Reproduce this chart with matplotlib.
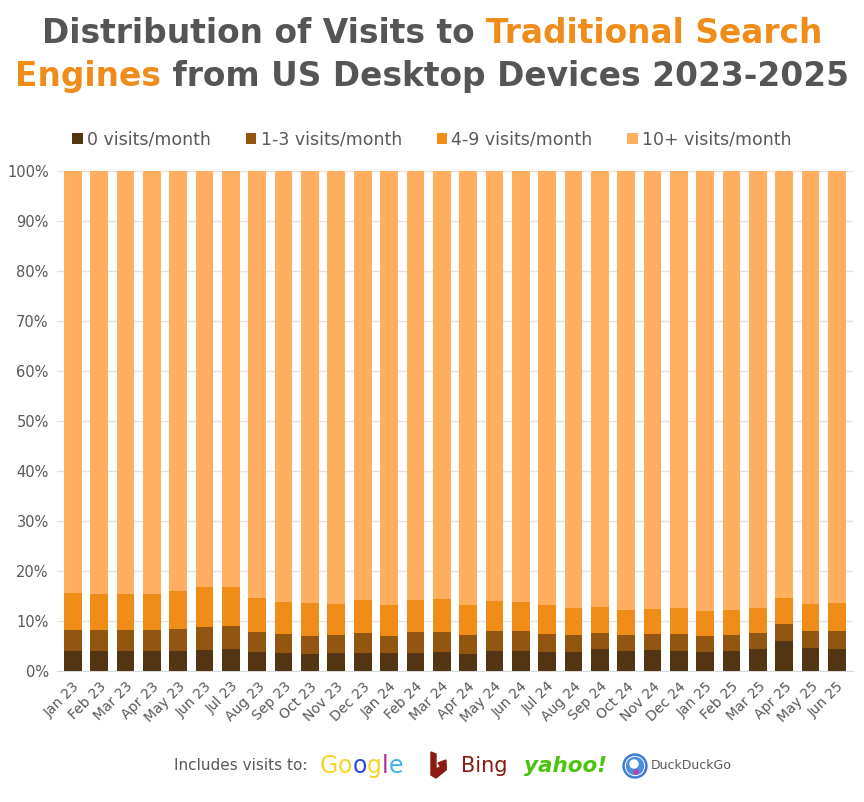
import numpy as np
import matplotlib
matplotlib.use("Agg")
import matplotlib.pyplot as plt
from matplotlib.patches import Circle, Polygon

# data (cumulative tops, %)
months = ["Jan 23", "Feb 23", "Mar 23", "Apr 23", "May 23", "Jun 23", "Jul 23", "Aug 23",
          "Sep 23", "Oct 23", "Nov 23", "Dec 23", "Jan 24", "Feb 24", "Mar 24", "Apr 24",
          "May 24", "Jun 24", "Jul 24", "Aug 24", "Sep 24", "Oct 24", "Nov 24", "Dec 24",
          "Jan 25", "Feb 25", "Mar 25", "Apr 25", "May 25", "Jun 25"]
top_0 = [4.1, 4.1, 4.1, 4.1, 4.1, 4.3, 4.5, 3.9, 3.7, 3.5, 3.6, 3.7, 3.6, 3.7, 3.9,
         3.5, 4.0, 4.1, 3.8, 3.8, 4.4, 4.1, 4.3, 4.0, 3.9, 4.1, 4.4, 6.1, 4.6, 4.5]
top_1_3 = [8.3, 8.2, 8.3, 8.3, 8.4, 8.9, 9.1, 7.9, 7.4, 7.1, 7.3, 7.6, 7.1, 7.8, 7.9,
           7.3, 8.0, 8.1, 7.5, 7.2, 7.7, 7.3, 7.5, 7.4, 7.0, 7.2, 7.6, 9.4, 8.1, 8.1]
top_4_9 = [15.7, 15.5, 15.4, 15.4, 16.1, 16.8, 16.9, 14.7, 13.8, 13.7, 13.5, 14.3, 13.3,
           14.3, 14.4, 13.3, 14.0, 13.8, 13.2, 12.7, 12.8, 12.3, 12.5, 12.6, 12.0, 12.2,
           12.7, 14.6, 13.4, 13.7]

labels = ["0 visits/month", "1-3 visits/month", "4-9 visits/month", "10+ visits/month"]
colors = ["#533513", "#935610", "#F08C18", "#FFAF5F"]

b0 = np.array(top_0)
b1 = np.array(top_1_3) - b0
b2 = np.array(top_4_9) - np.array(top_1_3)
b3 = 100 - np.array(top_4_9)

plt.rcParams["font.family"] = "DejaVu Sans"
fig = plt.figure(figsize=(8.64, 8.02), dpi=100)
ax = fig.add_axes([0.066, 0.1633, 0.921, 0.6235])

x = np.arange(len(months))
bottom = np.zeros(len(months))
for vals, lab, col in zip([b0, b1, b2, b3], labels, colors):
    ax.bar(x, vals, bottom=bottom, width=0.67, color=col, label=lab, zorder=3)
    bottom += vals

ax.set_ylim(0, 100)
ax.set_xlim(-0.6, len(months) - 0.4)
ax.set_yticks(range(0, 101, 10))
ax.set_yticklabels([f"{v}%" for v in range(0, 101, 10)], color="#595959", fontsize=10.5)
ax.set_xticks(x)
ax.set_xticklabels(months, rotation=45, ha="right", rotation_mode="anchor",
                   color="#595959", fontsize=10)
ax.tick_params(length=0, pad=6)
ax.yaxis.grid(True, color="#E3E3E3", linewidth=1, zorder=0)
for s in ["top", "right", "left"]:
    ax.spines[s].set_visible(False)
ax.spines["bottom"].set_color("#D9D9D9")

leg = fig.legend(loc="center", bbox_to_anchor=(0.5, 0.826), ncol=4, frameon=False,
                 fontsize=12.5, handlelength=0.6, handleheight=0.6, handletextpad=0.25,
                 columnspacing=2.0, labelcolor="#595959")

# title in two colours
grey = "#555555"
orange = "#F08C1A"
title_lines = [
    [("Distribution of Visits to ", grey), ("Traditional Search", orange)],
    [("Engines", orange), (" from US Desktop Devices 2023-2025", grey)],
]
title_y = [0.958, 0.905]

fig.canvas.draw()
renderer = fig.canvas.get_renderer()


def put_line(parts, y, size, weight="bold", family="DejaVu Sans"):
    texts = []
    for s, c in parts:
        t = fig.text(0, y, s, color=c, fontsize=size, fontweight=weight,
                     family=family, va="center", ha="left")
        texts.append(t)
    widths = [t.get_window_extent(renderer).width / fig.bbox.width for t in texts]
    x0 = 0.5 - sum(widths) / 2
    for t, w in zip(texts, widths):
        t.set_x(x0)
        x0 += w


for parts, y in zip(title_lines, title_y):
    put_line(parts, y, 23.7)

# "includes visits to" row with text versions of the logos
fy = 0.045
fig.text(0.201, fy, "Includes visits to:", color="#595959", fontsize=11, va="center")

google = [("G", "#F6D32B"), ("o", "#F6D32B"), ("o", "#2B49E0"), ("g", "#F6D32B"),
          ("l", "#B02C9A"), ("e", "#3DB3E8")]
gx = 0.370
for ch, c in google:
    t = fig.text(gx, fy, ch, color=c, fontsize=17, va="center", ha="left")
    gx += t.get_window_extent(renderer).width / fig.bbox.width

# bing mark
lx = fig.add_axes([0, 0, 1, 1], facecolor="none")
lx.set_xlim(0, 864)
lx.set_ylim(802, 0)
lx.axis("off")
lx.add_patch(Polygon([(431, 752), (436, 754), (436, 769), (446, 764), (446, 770),
                      (436, 778), (431, 775)], closed=True, color="#8B1B12"))
lx.add_patch(Polygon([(438, 763), (446, 760), (446, 770), (441, 767)], closed=True,
                     color="#8B1B12"))
fig.text(0.533, fy, "Bing", color="#8B1B12", fontsize=15, va="center")
fig.text(0.607, fy, "yahoo!", color="#4CC40F", fontsize=15.5, fontweight="bold",
         fontstyle="italic", va="center")

# duckduckgo mark
lx.add_patch(Circle((635, 766), 12, color="#3D7DD6"))
lx.add_patch(Circle((635, 766), 9.5, color="#FFFFFF"))
lx.add_patch(Circle((635, 766), 8.5, color="#4A8FE0"))
lx.add_patch(Circle((634, 764), 4, color="#FFFFFF"))
lx.add_patch(Circle((636, 772), 2, color="#C03CB8"))
fig.text(0.753, fy, "DuckDuckGo", color="#595959", fontsize=9, va="center")

fig.savefig("out.png", dpi=100, facecolor="white")
